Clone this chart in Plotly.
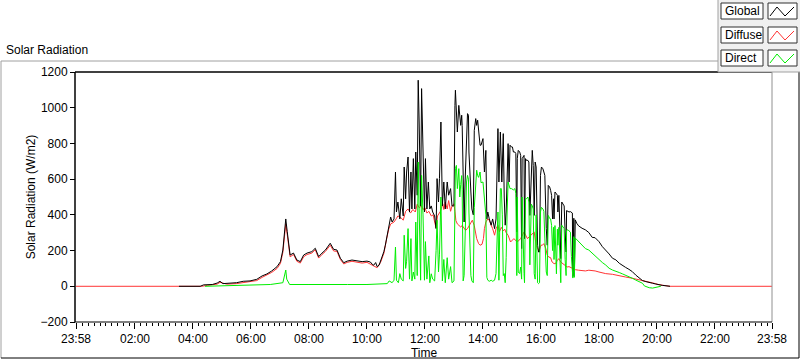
import plotly.graph_objects as go

# ---------------- data (minutes since midnight; -2 = 23:58 previous day) ----------------
tick_vals = [-2, 120, 240, 360, 480, 600, 720, 840, 960, 1080, 1200, 1320, 1438]
tick_text = ["23:58", "02:00", "04:00", "06:00", "08:00", "10:00", "12:00",
             "14:00", "16:00", "18:00", "20:00", "22:00", "23:58"]
y_ticks = [-200, 0, 200, 400, 600, 800, 1000, 1200]
series_names = ["Global", "Diffuse", "Direct"]

global_t = [211, 255, 262, 280, 290, 296, 302, 317, 330, 344,
            358, 372, 383, 393, 403, 414, 421, 426, 430, 432,
            435, 438, 441, 448, 455, 462, 469, 476, 486, 493,
            500, 507, 514, 524, 531, 538, 545, 552, 559, 569,
            580, 590, 600, 607, 611, 614, 618, 621, 625, 628,
            632, 635, 638, 642, 645, 649, 652, 656, 659, 661,
            664, 668, 671, 675, 677, 680, 682, 685, 688, 691,
            693, 696, 699, 701, 704, 706, 708, 711, 713, 716,
            719, 721, 724, 727, 730, 733, 736, 740, 743, 745,
            748, 750, 753, 756, 759, 762, 766, 769, 773, 776,
            780, 782, 783, 787, 790, 794, 796, 797, 801, 803,
            806, 808, 810, 811, 815, 817, 820, 822, 825, 827,
            829, 831, 834, 836, 840, 843, 846, 848, 850, 853,
            857, 860, 864, 867, 871, 873, 876, 879, 880, 882,
            884, 886, 888, 890, 892, 894, 896, 899, 901, 903,
            906, 908, 910, 911, 913, 916, 918, 920, 921, 925,
            926, 928, 930, 933, 935, 937, 940, 942, 944, 946,
            948, 950, 953, 955, 957, 959, 961, 964, 966, 968,
            971, 973, 975, 978, 980, 982, 984, 986, 987, 989,
            992, 994, 995, 997, 1000, 1001, 1003, 1006, 1008, 1010,
            1012, 1013, 1016, 1018, 1021, 1025, 1026, 1028, 1029, 1031,
            1034, 1038, 1045, 1052, 1059, 1066, 1072, 1080, 1087, 1094,
            1101, 1108, 1115, 1122, 1129, 1135, 1142, 1149, 1156, 1163,
            1170, 1177, 1184, 1191, 1197, 1204, 1211, 1227]
global_v = [0, 0, 8, 10, 18, 28, 15, 17, 20, 28,
            30, 39, 58, 69, 86, 110, 138, 203, 298, 377,
            306, 222, 175, 186, 147, 138, 175, 186, 194, 213,
            166, 186, 203, 241, 207, 203, 157, 132, 141, 147,
            141, 138, 141, 136, 123, 118, 133, 110, 118, 141,
            160, 194, 230, 286, 342, 388, 360, 377, 640, 416,
            472, 377, 490, 394, 668, 490, 640, 724, 416, 640,
            433, 715, 433, 752, 510, 1154, 920, 450, 1107, 827,
            416, 715, 433, 584, 433, 450, 416, 394, 323, 603,
            472, 603, 920, 450, 584, 433, 584, 510, 547, 450,
            450, 1013, 1098, 864, 1013, 901, 958, 901, 360, 584,
            864, 967, 958, 752, 528, 433, 400, 873, 939, 901,
            930, 864, 790, 790, 827, 640, 761, 377, 416, 377,
            342, 377, 323, 377, 883, 584, 864, 584, 715, 855,
            500, 342, 416, 584, 799, 584, 790, 780, 780, 752,
            752, 743, 304, 715, 761, 752, 733, 211, 715, 733,
            267, 715, 705, 705, 696, 397, 696, 761, 677, 397,
            696, 668, 230, 192, 192, 621, 668, 658, 640, 621,
            323, 230, 565, 556, 537, 509, 377, 490, 377, 528,
            518, 509, 416, 509, 248, 155, 472, 462, 450, 304,
            192, 424, 416, 416, 418, 410, 54, 381, 60, 372,
            353, 338, 325, 316, 301, 274, 272, 250, 222, 203,
            181, 157, 148, 129, 119, 106, 95, 82, 63, 45,
            32, 26, 23, 17, 13, 7, 5, 0]

diffuse_t = [-2, 120, 211, 258, 270, 290, 296, 310, 330, 344,
             358, 372, 383, 393, 403, 414, 421, 426, 430, 432,
             435, 438, 441, 448, 455, 462, 469, 476, 486, 493,
             500, 507, 514, 524, 531, 538, 545, 552, 559, 569,
             580, 590, 600, 611, 621, 628, 635, 641, 645, 649,
             656, 661, 664, 670, 675, 680, 685, 690, 695, 700,
             704, 708, 713, 716, 720, 724, 728, 733, 737, 740,
             743, 746, 749, 752, 757, 759, 762, 766, 769, 773,
             776, 780, 782, 784, 787, 790, 794, 797, 801, 804,
             808, 811, 815, 818, 822, 824, 827, 831, 834, 838,
             841, 843, 846, 850, 853, 857, 860, 864, 867, 871,
             874, 878, 882, 885, 888, 892, 897, 904, 911, 918,
             925, 932, 939, 946, 950, 953, 956, 960, 963, 966,
             970, 973, 976, 980, 983, 987, 990, 994, 997, 1001,
             1008, 1014, 1018, 1021, 1026, 1031, 1038, 1045, 1052, 1059,
             1066, 1072, 1080, 1087, 1094, 1108, 1115, 1129, 1135, 1149,
             1163, 1177, 1191, 1204, 1218, 1227, 1438]
diffuse_v = [0, 0, 0, 0, 5, 12, 22, 12, 15, 22,
             25, 32, 50, 62, 78, 100, 128, 190, 280, 350,
             290, 210, 165, 178, 140, 130, 165, 178, 186, 205,
             158, 178, 195, 230, 198, 195, 150, 125, 134, 140,
             134, 130, 134, 116, 104, 133, 185, 270, 320, 349,
             360, 380, 394, 385, 370, 420, 433, 410, 430, 416,
             460, 440, 450, 430, 440, 410, 420, 394, 400, 360,
             327, 394, 405, 420, 462, 430, 472, 433, 480, 420,
             450, 462, 420, 368, 349, 342, 332, 340, 323, 314,
             323, 340, 360, 370, 340, 305, 267, 239, 230, 235,
             267, 323, 360, 377, 370, 342, 323, 286, 323, 342,
             305, 330, 310, 320, 300, 286, 248, 267, 248, 267,
             304, 267, 286, 304, 230, 211, 196, 230, 230, 239,
             211, 174, 164, 160, 136, 127, 127, 145, 155, 136,
             118, 108, 110, 106, 99, 93, 90, 86, 86, 90,
             90, 86, 80, 75, 71, 67, 64, 56, 52, 45,
             37, 30, 19, 9, 3, 0, 0]

direct_t = [265, 300, 330, 360, 400, 426, 430, 432, 434, 437,
            440, 480, 520, 560, 600, 630, 642, 646, 652, 656,
            659, 661, 665, 668, 671, 675, 677, 680, 682, 685,
            688, 691, 693, 696, 699, 701, 704, 706, 708, 711,
            713, 716, 719, 721, 724, 728, 730, 733, 736, 740,
            743, 745, 748, 750, 753, 756, 759, 762, 766, 769,
            773, 776, 780, 782, 783, 785, 787, 790, 792, 794,
            796, 797, 799, 801, 803, 806, 808, 810, 811, 815,
            817, 820, 822, 825, 827, 829, 831, 834, 836, 840,
            843, 846, 848, 850, 853, 857, 860, 864, 867, 871,
            873, 876, 878, 880, 882, 884, 886, 888, 890, 892,
            896, 899, 903, 906, 908, 910, 911, 913, 916, 918,
            920, 921, 925, 926, 928, 930, 933, 935, 937, 940,
            942, 944, 946, 948, 950, 953, 955, 957, 959, 961,
            964, 966, 968, 971, 973, 975, 978, 980, 982, 984,
            986, 987, 989, 992, 994, 995, 997, 1000, 1001, 1003,
            1006, 1008, 1010, 1012, 1013, 1016, 1018, 1021, 1023, 1026,
            1028, 1029, 1031, 1034, 1038, 1045, 1052, 1059, 1066, 1072,
            1080, 1087, 1094, 1101, 1108, 1115, 1122, 1129, 1135, 1142,
            1149, 1156, 1163, 1170, 1174, 1177, 1184, 1191, 1197, 1204,
            1208]
direct_v = [0, 3, 5, 8, 10, 20, 60, 91, 40, 20,
            10, 10, 12, 10, 10, 12, 15, 30, 20, 34,
            220, 34, 20, 71, 40, 30, 286, 100, 140, 323,
            40, 267, 30, 80, 40, 360, 60, 696, 480, 34,
            621, 400, 34, 250, 40, 170, 20, 70, 40, 30,
            200, 370, 80, 180, 500, 30, 150, 20, 160, 40,
            110, 20, 30, 600, 659, 677, 547, 659, 500, 570,
            620, 540, 30, 60, 270, 584, 621, 600, 416, 60,
            30, 20, 440, 584, 650, 620, 610, 640, 580, 584,
            490, 400, 50, 34, 28, 34, 28, 34, 71, 416,
            34, 547, 547, 400, 60, 71, 20, 160, 416, 584,
            547, 547, 540, 547, 520, 60, 500, 80, 71, 108,
            40, 500, 71, 20, 490, 490, 500, 472, 120, 460,
            450, 433, 71, 40, 400, 20, 15, 20, 416, 442,
            433, 420, 270, 80, 60, 397, 380, 377, 340, 200,
            330, 150, 340, 70, 320, 230, 330, 50, 20, 342,
            330, 323, 150, 60, 314, 316, 310, 303, 166, 46,
            278, 50, 270, 261, 250, 231, 211, 203, 185, 166,
            148, 133, 119, 101, 91, 82, 77, 69, 63, 54,
            45, 35, 26, 17, 2, -2, -8, -10, -6, -2,
            0]

# ---------------- styling ----------------
FONT = "Liberation Sans"
C_GLOBAL = "#000000"
C_DIFFUSE = "#ff3333"
C_DIRECT = "#00ee00"

W, H = 800, 361
L, R, T, B = 76, 772, 72, 322  # plot-area pixel box


def px(xp):
    return (xp - L) / (R - L)


def py(yp):
    return (B - yp) / (B - T)


fig = go.Figure()
fig.add_trace(go.Scatter(x=diffuse_t, y=diffuse_v, mode="lines", name=series_names[1],
                         line=dict(color=C_DIFFUSE, width=1)))
fig.add_trace(go.Scatter(x=global_t, y=global_v, mode="lines", name=series_names[0],
                         line=dict(color=C_GLOBAL, width=1)))
fig.add_trace(go.Scatter(x=direct_t, y=direct_v, mode="lines", name=series_names[2],
                         line=dict(color=C_DIRECT, width=1)))

shapes = []


def line(x0, y0, x1, y1, color, width=1):
    shapes.append(dict(type="line", xref="paper", yref="paper",
                       x0=px(x0), y0=py(y0), x1=px(x1), y1=py(y1),
                       line=dict(color=color, width=width)))


def rect(x0, y0, x1, y1, fill, border, width=1):
    shapes.append(dict(type="rect", xref="paper", yref="paper",
                       x0=px(x0), y0=py(y0), x1=px(x1), y1=py(y1),
                       fillcolor=fill, line=dict(color=border, width=width)))


# outer sunken frame
line(1, 61, 1, 358, "#a0a0a0")
line(1, 61, 718, 61, "#a0a0a0")
line(1, 358, 799, 358, "#000000")
line(799, 72, 799, 358, "#000000")
# plot-area frame
line(L - 1, T, L - 1, B, "#000000", 1.5)
line(L - 1, T, R, T, "#000000", 1.5)
line(R, T, R, B, "#909090")
line(L - 1, B, R, B, "#000000")

# legend panel
rect(718, -2, 803, 72, "#f0f0f0", "#a0a0a0")
annotations = []
rows = [(3, 19), (27, 43), (50, 66)]
cols = [C_GLOBAL, C_DIFFUSE, C_DIRECT]
for (y0, y1), name, c in zip(rows, series_names, cols):
    rect(721, y0, 763, y1, "#ffffff", "#303030")
    rect(768, y0, 797, y1, "#ffffff", "#303030")
    pts = [(770, y1 - 3), (777, y0 + 4), (785, y1 - 3), (794, y0 + 4)]
    path = "M " + " L ".join(f"{px(a)},{py(b)}" for a, b in pts)
    shapes.append(dict(type="path", xref="paper", yref="paper", path=path,
                       line=dict(color=c, width=1)))
    annotations.append(dict(text=name, xref="paper", yref="paper",
                            x=px(723), y=py((y0 + y1) / 2), xanchor="left", yanchor="middle",
                            showarrow=False, font=dict(family=FONT, size=12, color="#000000")))

annotations.append(dict(text="Solar Radiation", xref="paper", yref="paper",
                        x=px(4), y=py(50), xanchor="left", yanchor="middle",
                        showarrow=False, font=dict(family=FONT, size=12, color="#000000")))

fig.update_layout(
    width=W, height=H,
    margin=dict(l=L, r=W - R, t=T, b=H - B, pad=0, autoexpand=False),
    paper_bgcolor="#ffffff", plot_bgcolor="#ffffff",
    showlegend=False,
    font=dict(family=FONT, size=12, color="#000000"),
    shapes=shapes, annotations=annotations,
    xaxis=dict(range=[-2, 1438], tickmode="array", tickvals=tick_vals, ticktext=tick_text,
               ticks="outside", ticklen=6, tickwidth=1, tickcolor="#000000",
               showgrid=False, zeroline=False, showline=False, automargin=False,
               minor=dict(dtick=12, tick0=0, ticks="outside", ticklen=3,
                          tickcolor="#000000", showgrid=False),
               tickfont=dict(family=FONT, size=12),
               title=dict(text="Time", font=dict(family=FONT, size=12), standoff=0)),
    yaxis=dict(range=[-200, 1200], tickmode="array", tickvals=y_ticks,
               ticks="outside", ticklen=5, tickwidth=1, tickcolor="#000000",
               showgrid=False, zeroline=False, showline=False, automargin=False,
               tickfont=dict(family=FONT, size=12),
               title=dict(text="Solar Radiation (W/m2)", font=dict(family=FONT, size=12),
                          standoff=2)),
)

fig.write_html("out.html", config={"displayModeBar": False},
               post_script="document.body.style.margin='0px';")
